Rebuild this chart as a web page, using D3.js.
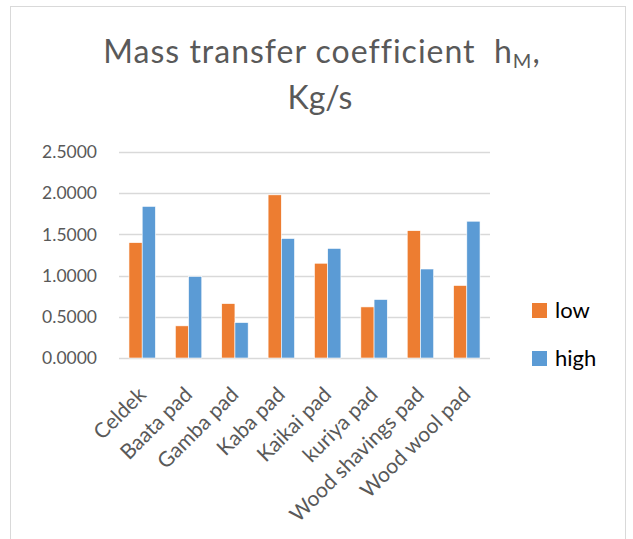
<!DOCTYPE html>
<html>
<head>
<meta charset="utf-8">
<script src="https://cdn.jsdelivr.net/npm/d3@7"></script>
<style>
  body { margin: 0; background: #fff; }
  text { font-family: Lato, "Open Sans", sans-serif; }
</style>
</head>
<body>
<div id="chart"></div>
<script>
const categories = ["Celdek", "Baata pad", "Gamba pad", "Kaba pad", "Kaikai pad", "kuriya pad", "Wood shavings pad", "Wood wool pad"]
const seriesNames = ["low", "high"]
const lowValues = [1.40, 0.39, 0.66, 1.98, 1.15, 0.62, 1.545, 0.88]
const highValues = [1.84, 0.99, 0.43, 1.45, 1.33, 0.71, 1.08, 1.66]
const yTicks = [0, 0.5, 1.0, 1.5, 2.0, 2.5]
const colors = ["#ED7D31", "#5B9BD5"]

const totalWidth = 633, totalHeight = 539
const plot = { left: 119, right: 490, top: 152, bottom: 358 }

const svg = d3.select("div#chart").append("svg").attr("width", totalWidth).attr("height", totalHeight)

// chart frame
svg.append("rect").attr("x", 10.5).attr("y", 6.5).attr("width", 615).attr("height", 560)
    .attr("fill", "none").attr("stroke", "#d9d9d9").attr("stroke-width", 1)

// title
const title = svg.append("text").attr("text-anchor", "middle").attr("fill", "#595959").attr("font-size", 32)
const line1 = title.append("tspan").attr("x", 322).attr("y", 63).attr("letter-spacing", 1)
line1.append("tspan").text("Mass transfer coefficient\u00a0\u00a0h")
line1.append("tspan").attr("font-size", 20).attr("dy", 5).text("M")
line1.append("tspan").attr("dy", -5).text(",")
title.append("tspan").attr("x", 320).attr("y", 109).text("Kg/s")

const x0 = d3.scaleBand().domain(categories).range([plot.left, plot.right]).paddingInner(0.43).paddingOuter(0.215)
const x1 = d3.scaleBand().domain(seriesNames).range([0, x0.bandwidth()])
const y = d3.scaleLinear().domain([0, 2.5]).range([plot.bottom, plot.top])

// gridlines
svg.append("g").selectAll("line").data(yTicks).join("line")
    .attr("x1", plot.left).attr("x2", plot.right)
    .attr("y1", d => Math.round(y(d)) + 0.5).attr("y2", d => Math.round(y(d)) + 0.5)
    .attr("stroke", "#d9d9d9").attr("stroke-width", 1.5)

// y axis labels
const yAxis = d3.axisLeft(y).tickValues(yTicks).tickFormat(d3.format(".4f")).tickSize(0).tickPadding(0)
const yAxisGroup = svg.append("g").attr("transform", `translate(97, 0)`).call(yAxis)
yAxisGroup.select(".domain").remove()
yAxisGroup.selectAll("text").attr("fill", "#595959").attr("font-size", 17.5).attr("font-family", "Lato, sans-serif")

// bars
const rows = categories.map((c, i) => ({ cat: c, values: [lowValues[i], highValues[i]] }))
const groups = svg.append("g").selectAll("g").data(rows).join("g")
    .attr("transform", d => `translate(${x0(d.cat)}, 0)`)
groups.selectAll("rect").data(d => d.values.map((v, j) => ({ key: seriesNames[j], v: v, j: j }))).join("rect")
    .attr("x", d => x1(d.key))
    .attr("width", x1.bandwidth())
    .attr("y", d => y(d.v))
    .attr("height", d => y(0) - y(d.v))
    .attr("fill", d => colors[d.j])
    .attr("stroke", "#fff").attr("stroke-width", 0.6)

// x axis labels
const xAxis = d3.axisBottom(x0).tickSize(0).tickPadding(0)
const xAxisGroup = svg.append("g").attr("transform", `translate(0, ${plot.bottom})`).call(xAxis)
xAxisGroup.select(".domain").remove()
xAxisGroup.selectAll("text")
    .attr("fill", "#595959").attr("font-size", 21).attr("font-family", "Lato, sans-serif")
    .attr("text-anchor", "end").attr("dy", null).attr("y", 0)
    .attr("transform", "translate(5, 38) rotate(-45)")

// legend
const legend = svg.append("g").selectAll("g").data(seriesNames).join("g")
    .attr("transform", (d, i) => `translate(532, ${303 + i * 48})`)
legend.append("rect").attr("width", 15).attr("height", 15).attr("fill", (d, i) => colors[i])
legend.append("text").attr("x", 23).attr("y", 15).attr("font-size", 22).attr("fill", "#000").text(d => d)
</script>
</body>
</html>
